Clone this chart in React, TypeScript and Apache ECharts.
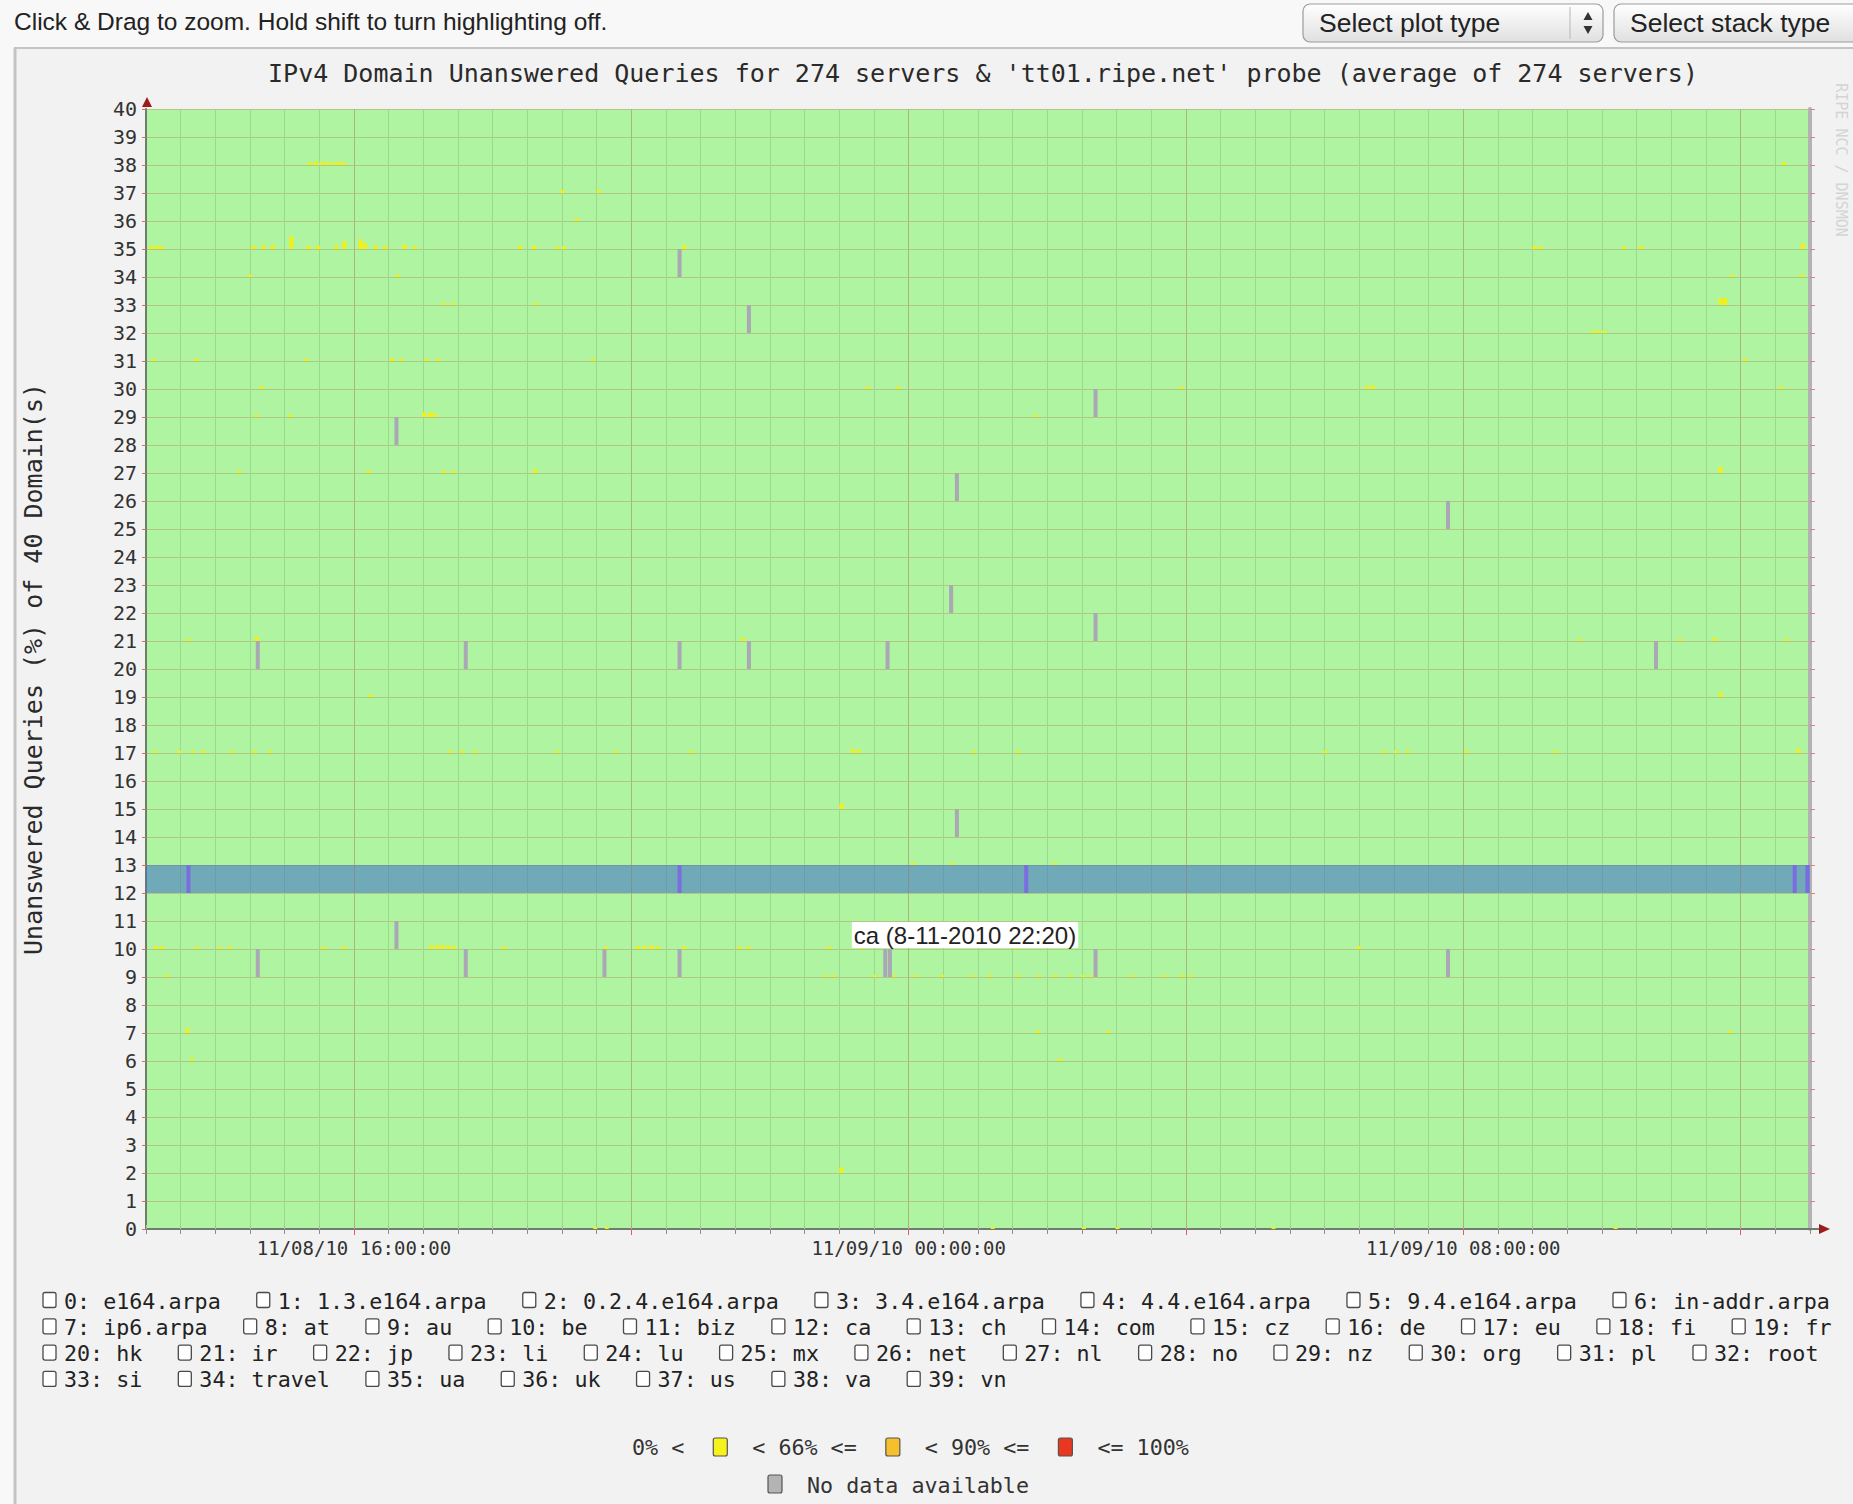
import React, { useEffect, useRef } from 'react';
import * as echarts from 'echarts';

// ---------------- data ----------------
const HEADER_TEXT = 'Click & Drag to zoom. Hold shift to turn highlighting off.';
const SELECT_LABELS = ['Select plot type', 'Select stack type'];
const TITLE = "IPv4 Domain Unanswered Queries for 274 servers & 'tt01.ripe.net' probe (average of 274 servers)";
const Y_AXIS_NAME = 'Unanswered Queries (%) of 40 Domain(s)';
const WATERMARK = 'RIPE NCC / DNSMON';
const DOMAINS = [
  'e164.arpa', '1.3.e164.arpa', '0.2.4.e164.arpa', '3.4.e164.arpa', '4.4.e164.arpa', '9.4.e164.arpa',
  'in-addr.arpa', 'ip6.arpa', 'at', 'au', 'be', 'biz', 'ca', 'ch', 'com', 'cz', 'de', 'eu', 'fi', 'fr',
  'hk', 'ir', 'jp', 'li', 'lu', 'mx', 'net', 'nl', 'no', 'nz', 'org', 'pl', 'root', 'si', 'travel',
  'ua', 'uk', 'us', 'va', 'vn',
];
const TIME_START = '11-08 13:00';
const TIME_END = '11-09 13:00';
const LABEL_TIMES = ['11-08 16:00', '11-09 00:00', '11-09 08:00'];
const MAJOR_TIMES = ['11-08 16:00', '11-08 20:00', '11-09 00:00', '11-09 04:00', '11-09 08:00', '11-09 12:00'];
const HIGHLIGHT_DOMAIN = 'ca';
const HOVER_LABEL = 'ca (8-11-2010 22:20)';
const SCALE_TEXTS = ['0% <', '< 66% <=', '< 90% <=', '<= 100%'];
const SCALE_COLORS = ['#f6f21c', '#f5c02c', '#e9381f'];
const NO_DATA_TEXT = 'No data available';

// cells with no data: [time, domain index]
const NO_DATA: [string, number][] = [
  ['11-08 20:40', 34], ['11-08 21:40', 32], ['11-08 16:35', 28], ['11-09 02:40', 29],
  ['11-09 00:40', 26], ['11-09 07:45', 25], ['11-09 00:35', 22], ['11-09 02:40', 21],
  ['11-08 14:35', 20], ['11-08 17:35', 20], ['11-08 20:40', 20], ['11-08 21:40', 20],
  ['11-08 23:40', 20], ['11-09 10:45', 20], ['11-09 00:40', 14], ['11-08 16:35', 10],
  ['11-08 14:35', 9], ['11-08 17:35', 9], ['11-08 19:35', 9], ['11-08 20:40', 9],
  ['11-08 23:38', 9], ['11-08 23:42', 9], ['11-09 02:40', 9], ['11-09 07:45', 9],
  ['11-08 13:35', 12], ['11-08 20:40', 12], ['11-09 01:40', 12], ['11-09 12:45', 12], ['11-09 12:56', 12],
];

// cells with unanswered queries (0% < x < 66%): [time, domain index, percent]
const PARTIAL: [string, number, number][] = [
  ['11-08 15:20', 38, 10], ['11-08 15:25', 38, 12], ['11-08 15:30', 38, 10], ['11-08 15:35', 38, 12],
  ['11-08 15:40', 38, 10], ['11-08 15:45', 38, 12], ['11-08 15:50', 38, 10], ['11-09 12:36', 38, 10],
  ['11-08 18:58', 37, 10], ['11-08 19:30', 37, 10], ['11-08 19:11', 36, 10],
  ['11-08 13:03', 35, 12], ['11-08 13:08', 35, 12], ['11-08 13:12', 35, 10], ['11-08 14:31', 35, 12],
  ['11-08 14:40', 35, 14], ['11-08 14:48', 35, 14], ['11-08 15:04', 35, 45], ['11-08 15:19', 35, 12],
  ['11-08 15:27', 35, 12], ['11-08 15:43', 35, 14], ['11-08 15:50', 35, 28], ['11-08 16:04', 35, 35],
  ['11-08 16:08', 35, 20], ['11-08 16:17', 35, 14], ['11-08 16:25', 35, 12], ['11-08 16:42', 35, 16],
  ['11-08 16:51', 35, 10], ['11-08 18:22', 35, 12], ['11-08 18:34', 35, 12], ['11-08 18:54', 35, 10],
  ['11-08 19:00', 35, 10], ['11-08 20:44', 35, 14], ['11-09 09:00', 35, 12], ['11-09 09:05', 35, 10],
  ['11-09 10:17', 35, 10], ['11-09 10:32', 35, 12], ['11-09 12:52', 35, 20],
  ['11-08 14:28', 34, 8], ['11-08 16:36', 34, 8], ['11-09 11:51', 34, 8], ['11-09 12:51', 34, 8],
  ['11-08 17:16', 33, 8], ['11-08 17:24', 33, 8], ['11-08 18:35', 33, 8], ['11-09 11:41', 33, 25], ['11-09 11:45', 33, 25],
  ['11-09 09:50', 32, 8], ['11-09 09:55', 32, 8], ['11-09 10:00', 32, 8],
  ['11-08 13:05', 31, 8], ['11-08 13:42', 31, 10], ['11-08 15:17', 31, 8], ['11-08 16:31', 31, 10],
  ['11-08 16:39', 31, 8], ['11-08 17:01', 31, 8], ['11-08 17:11', 31, 8], ['11-08 19:25', 31, 8], ['11-09 12:02', 31, 8],
  ['11-08 14:38', 30, 10], ['11-08 23:23', 30, 8], ['11-08 23:49', 30, 8], ['11-09 03:54', 30, 8],
  ['11-09 06:35', 30, 12], ['11-09 06:40', 30, 12], ['11-09 12:33', 30, 8],
  ['11-08 14:34', 29, 8], ['11-08 15:03', 29, 8], ['11-08 16:59', 29, 16], ['11-08 17:04', 29, 16],
  ['11-08 17:08', 29, 14], ['11-09 01:48', 29, 8],
  ['11-08 14:19', 27, 8], ['11-08 16:11', 27, 10], ['11-08 17:16', 27, 8], ['11-08 17:24', 27, 8],
  ['11-08 18:35', 27, 14], ['11-09 11:41', 27, 22],
  ['11-08 13:35', 21, 8], ['11-08 14:34', 21, 16], ['11-08 21:35', 21, 12], ['11-09 09:39', 21, 8],
  ['11-09 11:06', 21, 8], ['11-09 11:36', 21, 12], ['11-09 12:38', 21, 8],
  ['11-08 16:13', 19, 10], ['11-09 11:41', 19, 16],
  ['11-08 13:06', 17, 8], ['11-08 13:27', 17, 8], ['11-08 13:39', 17, 8], ['11-08 13:48', 17, 8],
  ['11-08 14:12', 17, 8], ['11-08 14:32', 17, 8], ['11-08 14:46', 17, 8], ['11-08 17:22', 17, 8],
  ['11-08 17:32', 17, 8], ['11-08 17:43', 17, 8], ['11-08 18:54', 17, 8], ['11-08 19:45', 17, 8],
  ['11-08 20:50', 17, 8], ['11-08 23:10', 17, 14], ['11-08 23:15', 17, 12], ['11-09 00:55', 17, 8],
  ['11-09 01:33', 17, 8], ['11-09 05:59', 17, 8], ['11-09 06:49', 17, 8], ['11-09 07:00', 17, 8],
  ['11-09 07:10', 17, 8], ['11-09 08:01', 17, 8], ['11-09 09:18', 17, 8], ['11-09 12:48', 17, 14],
  ['11-08 23:00', 15, 20],
  ['11-09 00:02', 13, 8], ['11-09 00:35', 13, 8], ['11-09 02:05', 13, 8],
  ['11-08 13:07', 10, 10], ['11-08 13:12', 10, 10], ['11-08 13:42', 10, 8], ['11-08 14:02', 10, 8],
  ['11-08 14:11', 10, 8], ['11-08 15:32', 10, 8], ['11-08 15:50', 10, 8], ['11-08 17:05', 10, 12],
  ['11-08 17:10', 10, 14], ['11-08 17:15', 10, 14], ['11-08 17:20', 10, 12], ['11-08 17:25', 10, 10],
  ['11-08 18:08', 10, 8], ['11-08 19:36', 10, 8], ['11-08 20:04', 10, 10], ['11-08 20:10', 10, 12],
  ['11-08 20:16', 10, 12], ['11-08 20:21', 10, 10], ['11-08 20:44', 10, 10], ['11-08 21:32', 10, 8],
  ['11-08 21:40', 10, 8], ['11-08 22:49', 10, 8], ['11-08 23:17', 10, 8], ['11-09 01:30', 10, 8], ['11-09 06:28', 10, 10],
  ['11-08 13:16', 9, 8], ['11-08 22:46', 9, 7], ['11-08 22:53', 9, 7], ['11-08 23:29', 9, 7],
  ['11-08 23:46', 9, 7], ['11-09 00:05', 9, 7], ['11-09 00:27', 9, 7], ['11-09 00:53', 9, 7],
  ['11-09 01:09', 9, 7], ['11-09 01:33', 9, 7], ['11-09 01:51', 9, 7], ['11-09 02:05', 9, 7],
  ['11-09 02:19', 9, 7], ['11-09 02:30', 9, 7], ['11-09 02:37', 9, 7], ['11-09 03:11', 9, 7],
  ['11-09 03:39', 9, 7], ['11-09 03:55', 9, 7], ['11-09 04:02', 9, 7],
  ['11-08 13:34', 7, 16], ['11-09 01:50', 7, 8], ['11-09 02:51', 7, 8], ['11-09 11:49', 7, 8],
  ['11-08 13:38', 6, 10], ['11-09 02:09', 6, 8],
  ['11-08 23:00', 2, 20],
  ['11-08 19:27', 0, 7], ['11-08 19:37', 0, 7], ['11-09 01:11', 0, 7], ['11-09 02:30', 0, 7],
  ['11-09 02:59', 0, 7], ['11-09 05:14', 0, 7], ['11-09 10:10', 0, 7],
];

// ---------------- helpers / layout ----------------
const MONO = '"DejaVu Sans Mono", "Liberation Mono", monospace';
const SANS = '"Liberation Sans", Arial, sans-serif';
const W = 1853;
const H = 1504;
const PLOT = { left: 146, top: 109, right: 1810, bottom: 1229 };
const PANEL_TOP = 48;
const CELL_HOURS = 0.058;

const toHours = (s: string) => {
  const [md, hm] = s.split(' ');
  const day = Number(md.split('-')[1]);
  const [h, m] = hm.split(':').map(Number);
  return (day - 8) * 24 + h + m / 60;
};
const pad = (n: number) => String(n).padStart(2, '0');
const fmtTime = (v: number) => {
  const day = 8 + Math.floor(v / 24 + 1e-9);
  const h = Math.round(v - (day - 8) * 24);
  return `11/${pad(day)}/10 ${pad(h)}:00:00`;
};

const T0 = toHours(TIME_START);
const T1 = toHours(TIME_END);
const LABEL_HOURS = LABEL_TIMES.map(toHours);
const MAJOR_HOURS = MAJOR_TIMES.map(toHours);
const HL = DOMAINS.indexOf(HIGHLIGHT_DOMAIN);

const CELL_COLORS = ['rgba(60,110,205,0.55)', '#f4ef14', '#aaa8b5', '#7a6de0'];

function buildGraphics() {
  const g: any[] = [];
  const txt = (x: number, y: number, text: string, family: string, size: number, fill: string, align = 'left', extra: any = {}) => ({
    type: 'text', x, y, z: 50,
    style: { text, fontFamily: family, fontSize: size, fill, align, textAlign: align, verticalAlign: 'middle', textVerticalAlign: 'middle' },
    ...extra,
  });
  // outside page area & panel border
  g.push({ type: 'rect', z: 1, shape: { x: 0, y: 0, width: W, height: PANEL_TOP }, style: { fill: '#f8f8f8' } });
  g.push({ type: 'rect', z: 1, shape: { x: 0, y: PANEL_TOP, width: 14, height: H - PANEL_TOP }, style: { fill: '#f8f8f8' } });
  g.push({ type: 'line', z: 2, shape: { x1: 14, y1: PANEL_TOP, x2: W, y2: PANEL_TOP }, style: { stroke: '#c4c4c4', lineWidth: 2 } });
  g.push({ type: 'line', z: 2, shape: { x1: 15, y1: PANEL_TOP, x2: 15, y2: H }, style: { stroke: '#c4c4c4', lineWidth: 3 } });
  // header
  g.push(txt(14, 21, HEADER_TEXT, SANS, 24.5, '#222'));
  const selX = [1303, 1614];
  SELECT_LABELS.forEach((label, i) => {
    const x = selX[i];
    const w = 300;
    g.push({
      type: 'rect', z: 3, shape: { x, y: 4, width: w, height: 38, r: 7 },
      style: {
        fill: { type: 'linear', x: 0, y: 0, x2: 0, y2: 1, colorStops: [{ offset: 0, color: '#ffffff' }, { offset: 1, color: '#e0e0e0' }] },
        stroke: '#9c9c9c', lineWidth: 1.2,
      },
    });
    g.push({ type: 'line', z: 4, shape: { x1: x + 267, y1: 7, x2: x + 267, y2: 39 }, style: { stroke: '#b8b8b8', lineWidth: 1 } });
    g.push({ type: 'polygon', z: 4, shape: { points: [[x + 285, 12], [x + 280.5, 20], [x + 289.5, 20]] }, style: { fill: '#333' } });
    g.push({ type: 'polygon', z: 4, shape: { points: [[x + 285, 34], [x + 280.5, 26], [x + 289.5, 26]] }, style: { fill: '#333' } });
    g.push(txt(x + 16, 23, label, SANS, 26.5, '#222'));
  });
  // watermark on the right edge
  g.push(txt(1841, 160, WATERMARK, MONO, 15, '#d4d4d4', 'center', { rotation: -Math.PI / 2 }));
  // axis arrows
  g.push({ type: 'polygon', z: 60, shape: { points: [[PLOT.left + 1, 97], [PLOT.left - 4, 107], [PLOT.left + 6, 107]] }, style: { fill: '#9c1c1c' } });
  g.push({ type: 'line', z: 59, shape: { x1: PLOT.right, y1: PLOT.bottom, x2: 1820, y2: PLOT.bottom }, style: { stroke: '#6e7d6e', lineWidth: 2 } });
  g.push({ type: 'polygon', z: 60, shape: { points: [[1830, PLOT.bottom], [1819, PLOT.bottom - 5], [1819, PLOT.bottom + 5]] }, style: { fill: '#9c1c1c' } });
  // hover label
  g.push({
    type: 'text', x: 965, y: 935, z: 80,
    style: {
      text: HOVER_LABEL, fontFamily: SANS, fontSize: 24, fill: '#222', align: 'center', textAlign: 'center',
      verticalAlign: 'middle', textVerticalAlign: 'middle', backgroundColor: '#ffffff', padding: [1, 2],
    },
  });
  // domain checkbox legend
  const LEG = { left: 43, top: 1300, rowGap: 26.3, cbW: 13, cbH: 15, textGap: 21, itemGap: 35.9, fontSize: 21.7, charW: 13.07 };
  const ROW_BREAKS = [7, 20, 33];
  let row = 0;
  let x = LEG.left;
  DOMAINS.forEach((d, i) => {
    if (ROW_BREAKS.includes(i)) {
      row += 1;
      x = LEG.left;
    }
    const label = `${i}: ${d}`;
    const y = LEG.top + row * LEG.rowGap;
    g.push({ type: 'rect', z: 20, shape: { x, y: y - LEG.cbH / 2, width: LEG.cbW, height: LEG.cbH, r: 2 }, style: { fill: '#ffffff', stroke: '#4a4a4a', lineWidth: 1.3 } });
    g.push(txt(x + LEG.textGap, y + 1, label, MONO, LEG.fontSize, '#222'));
    x += LEG.textGap + label.length * LEG.charW + LEG.itemGap;
  });
  // colour scale legend
  const box = (bx: number, by: number, fill: string) => ({
    type: 'rect', z: 20, shape: { x: bx, y: by - 9, width: 14, height: 18, r: 2 }, style: { fill, stroke: '#555', lineWidth: 1.2 },
  });
  let sx = 632;
  const sy = 1447;
  SCALE_TEXTS.forEach((t, i) => {
    g.push(txt(sx, sy, t, MONO, LEG.fontSize, '#333'));
    sx += t.length * LEG.charW;
    if (i < SCALE_COLORS.length) {
      sx += 29;
      g.push(box(sx, sy, SCALE_COLORS[i]));
      sx += 14 + 25;
    }
  });
  g.push(box(768, 1484, '#b4b4b4'));
  g.push(txt(807, 1485, NO_DATA_TEXT, MONO, LEG.fontSize, '#333'));
  return g;
}

export default function App() {
  const ref = useRef<HTMLDivElement>(null);
  useEffect(() => {
    document.body.style.margin = '0';
    document.body.style.overflow = 'hidden';
    const chart = echarts.init(ref.current!, null, { renderer: 'svg' });

    const cells: number[][] = [
      [T0, HL, T1 - T0, 1, 0],
      ...PARTIAL.map(([t, r, p]) => [toHours(t), r, CELL_HOURS, p / 100, 1]),
      ...NO_DATA.map(([t, r]) => [toHours(t), r, CELL_HOURS, 1, r === HL ? 3 : 2]),
    ];

    const isLabel = (v: number) => LABEL_HOURS.some((l) => Math.abs(l - v) < 1e-6);

    chart.setOption({
      animation: false,
      backgroundColor: '#f2f2f2',
      title: {
        text: TITLE, left: 978, top: 56, textAlign: 'center',
        textStyle: { fontFamily: MONO, fontSize: 25, fontWeight: 'normal', color: '#2a2a2a' },
      },
      grid: {
        left: PLOT.left, top: PLOT.top, right: W - PLOT.right, bottom: H - PLOT.bottom,
        show: true, backgroundColor: '#aff4a0', borderWidth: 0,
      },
      xAxis: [
        {
          type: 'value', min: T0, max: T1, interval: 0.5, position: 'bottom',
          axisLine: { show: true, onZero: false, lineStyle: { color: '#6e7d6e', width: 2 } },
          axisTick: { show: true, length: 5, lineStyle: { color: '#8c8c8c' } },
          axisLabel: {
            show: true, customValues: LABEL_HOURS, margin: 9, fontFamily: MONO, fontSize: 19, color: '#333',
            formatter: (v: number) => (isLabel(v) ? fmtTime(v) : ''),
          },
          splitLine: { show: true, lineStyle: { color: '#9cd98d', width: 1 } },
        },
        {
          type: 'value', min: T0, max: T1, position: 'bottom',
          axisLine: { show: false },
          axisTick: { show: true, customValues: MAJOR_HOURS, length: 6, lineStyle: { color: '#d86060' } },
          axisLabel: { show: false },
          splitLine: { show: false },
        },
        {
          type: 'value', min: T0, max: T1, interval: 0.5, position: 'top',
          axisLine: { show: false },
          axisTick: { show: true, length: 4, lineStyle: { color: '#b4b4b4' } },
          axisLabel: { show: false },
          splitLine: { show: false },
        },
      ],
      yAxis: [
        {
          type: 'value', min: 0, max: 40, interval: 1, position: 'left',
          name: Y_AXIS_NAME, nameLocation: 'middle', nameGap: 100,
          nameTextStyle: { fontFamily: MONO, fontSize: 25, color: '#2a2a2a' },
          axisLine: { show: true, onZero: false, lineStyle: { color: '#6e7d6e', width: 2 } },
          axisTick: { show: true, length: 4, lineStyle: { color: '#e06a6a' } },
          axisLabel: { fontFamily: MONO, fontSize: 20, color: '#333', margin: 9 },
          splitLine: { show: true, lineStyle: { color: 'rgba(185,110,70,0.33)', width: 1 } },
        },
        {
          type: 'value', min: 0, max: 40, interval: 1, position: 'right',
          axisLine: { show: true, onZero: false, lineStyle: { color: '#b3b3b3', width: 4 } },
          axisTick: { show: true, length: 5, lineStyle: { color: '#e58080' } },
          axisLabel: { show: false },
          splitLine: { show: false },
        },
      ],
      series: [
        {
          type: 'line', xAxisIndex: 0, yAxisIndex: 0, data: [], silent: true,
          markLine: {
            silent: true, symbol: 'none', label: { show: false },
            lineStyle: { color: 'rgba(200,110,80,0.3)', width: 1, type: 'solid' },
            data: MAJOR_HOURS.map((v) => ({ xAxis: v })),
          },
        },
        {
          type: 'custom', xAxisIndex: 0, yAxisIndex: 0, clip: true, silent: true,
          data: cells,
          renderItem: (params: any, api: any) => {
            const t = api.value(0);
            const r = api.value(1);
            const w = api.value(2);
            const h = api.value(3);
            const k = api.value(4);
            const p0 = api.coord([t, r]);
            const p1 = api.coord([t + w, r + h]);
            return {
              type: 'rect',
              shape: { x: p0[0], y: p1[1], width: Math.max(p1[0] - p0[0], 1), height: p0[1] - p1[1] },
              style: { fill: CELL_COLORS[k] },
            };
          },
        },
      ],
      graphic: { elements: buildGraphics() },
    });
    return () => chart.dispose();
  }, []);
  return <div ref={ref} style={{ position: 'absolute', left: 0, top: 0, width: W, height: H }} />;
}
